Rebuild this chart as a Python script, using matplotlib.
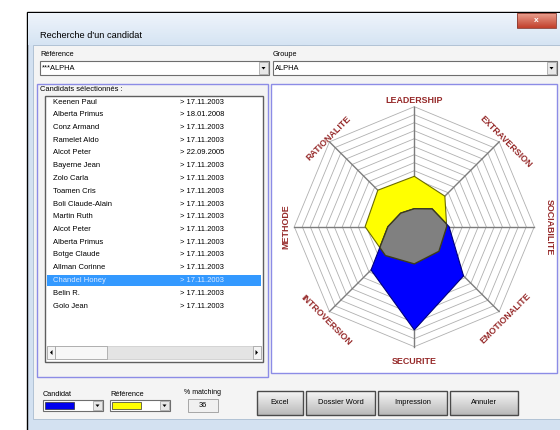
import matplotlib.pyplot as plt
import numpy as np
from matplotlib.colors import LinearSegmentedColormap
from matplotlib.patches import Polygon, Rectangle

plt.rcParams["font.family"] = ["Liberation Sans", "DejaVu Sans"]

# radar data (0-100 scale), axes listed clockwise from the top
AXES = ["LEADERSHIP", "EXTRAVERSION", "SOCIABILITE", "EMOTIONALITE",
        "SECURITE", "INTROVERSION", "METHODE", "RATIONALITE"]
REFERENCE = [42, 36, 27, 29, 31, 34, 41, 43]
CANDIDAT = [15, 21, 29, 58, 86, 51, 22, 16]
N_RINGS = 15
MATCHING = 36

NAMES = ["Keenen Paul", "Alberta Primus", "Conz Armand", "Ramelet Aldo", "Alcot Peter",
         "Bayerne Jean", "Zolo Carla", "Toamen Cris", "Boli Claude-Alain", "Martin Ruth",
         "Alcot Peter", "Alberta Primus", "Botge Claude", "Allman Corinne", "Chandel Honey",
         "Belin R.", "Golo Jean"]
DATES = ["17.11.2003", "18.01.2008", "17.11.2003", "17.11.2003", "22.09.2005",
         "17.11.2003", "17.11.2003", "17.11.2003", "17.11.2003", "17.11.2003",
         "17.11.2003", "17.11.2003", "17.11.2003", "17.11.2003", "17.11.2003",
         "17.11.2003", "17.11.2003"]
SELECTED = 14
BUTTONS = ["Excel", "Dossier Word", "Impression", "Annuler"]

LABEL_RED = "#962a2a"


def box(ax, x0, y0, x1, y1, fc, ec, lw=0.8, z=1):
    ax.add_patch(Rectangle((x0, y0), x1 - x0, y1 - y0, facecolor=fc, edgecolor=ec, lw=lw, zorder=z))


def gradient(ax, x0, y0, x1, y1, c_top, c_bottom, z=1):
    cmap = LinearSegmentedColormap.from_list("g", [c_top, c_bottom])
    ax.imshow(np.linspace(0, 1, 32).reshape(-1, 1), extent=(x0, x1, y1, y0), cmap=cmap,
              aspect="auto", origin="upper", zorder=z, interpolation="bilinear")


def arrow_down(ax, cx, cy, z=5):
    ax.add_patch(Polygon([(cx - 2, cy - 1), (cx + 2, cy - 1), (cx, cy + 1.5)], closed=True,
                         facecolor="black", edgecolor="none", zorder=z))


def combo(ax, x0, y0, x1, y1, text=None, swatch=None):
    box(ax, x0, y0, x1, y1, "white", "#6e6e6e", lw=0.8, z=3)
    box(ax, x1 - 10, y0 + 1, x1 - 1, y1 - 1, "#e8e8e8", "#9a9a9a", lw=0.5, z=4)
    arrow_down(ax, x1 - 5.5, (y0 + y1) / 2)
    if text:
        ax.text(x0 + 2, (y0 + y1) / 2, text, fontsize=5.4, va="center", ha="left", zorder=5)
    if swatch:
        box(ax, x0 + 2, y0 + 2, x0 + 31, y1 - 2, swatch, "#303030", lw=0.5, z=5)


fig = plt.figure(figsize=(5.6, 4.3), dpi=100)
fig.patch.set_facecolor("white")
ui = fig.add_axes([0, 0, 1, 1])

# window frame
box(ui, 27, 12, 570, 440, "#d3e1f1", "black", lw=1.0, z=1)
gradient(ui, 28, 13, 570, 45, "#eef4fb", "#d6e4f3", z=2)
box(ui, 33, 45, 562, 419, "#f4f4f4", "#a9bcd0", lw=0.6, z=2)
ui.text(40, 36, "Recherche d'un candidat", fontsize=6.7, va="center", ha="left", zorder=5)
gradient(ui, 517, 13, 556, 28, "#eaa08f", "#c2402c", z=3)
box(ui, 517, 13, 556, 28, "none", "#8a3a30", lw=0.6, z=4)
ui.text(536.5, 20.5, "x", fontsize=6, fontweight="bold", color="white", va="center", ha="center", zorder=5)

# combos on top
ui.text(40, 55, "Référence", fontsize=5.3, va="center", ha="left", zorder=5)
combo(ui, 40, 61, 269, 75, "***ALPHA")
ui.text(273, 55, "Groupe", fontsize=5.3, va="center", ha="left", zorder=5)
combo(ui, 273, 61, 557, 75, "ALPHA")

# candidate list
box(ui, 37, 84, 268, 377, "none", "#8c8ce6", lw=1.0, z=3)
ui.text(40, 89.5, "Candidats sélectionnés :", fontsize=5.4, va="center", ha="left", zorder=5)
box(ui, 45, 96, 263, 362, "white", "#5e5e5e", lw=1.0, z=3)
for i, (name, date) in enumerate(zip(NAMES, DATES)):
    y = 102 + 12.75 * i
    color = "black"
    if i == SELECTED:
        box(ui, 47, y - 5.5, 261, y + 5.5, "#3399ff", "none", lw=0, z=4)
        color = "#dce9ff"
    ui.text(53, y, name, fontsize=5.5, va="center", ha="left", color=color, zorder=5)
    ui.text(180, y, "> " + date, fontsize=5.5, va="center", ha="left", color=color, zorder=5)

# horizontal scrollbar
box(ui, 47, 346, 261, 359, "#e4e4e4", "#c8c8c8", lw=0.5, z=4)
box(ui, 47, 346, 55, 359, "#f4f4f4", "#9a9a9a", lw=0.5, z=4)
box(ui, 55, 346, 107, 359, "#f7f7f7", "#9a9a9a", lw=0.5, z=4)
box(ui, 253, 346, 261, 359, "#f4f4f4", "#9a9a9a", lw=0.5, z=4)
ui.add_patch(Polygon([(50, 352.5), (52.5, 350), (52.5, 355)], facecolor="black", edgecolor="none", zorder=5))
ui.add_patch(Polygon([(258, 352.5), (255.5, 350), (255.5, 355)], facecolor="black", edgecolor="none", zorder=5))

# radar frame
box(ui, 271, 84, 557, 373, "white", "#8c8ce6", lw=1.0, z=3)

# bottom controls
ui.text(43, 394, "Candidat", fontsize=5.3, va="center", ha="left", zorder=5)
combo(ui, 43, 400, 103, 411, swatch="#0000ee")
ui.text(110, 394, "Référence", fontsize=5.3, va="center", ha="left", zorder=5)
combo(ui, 110, 400, 170, 411, swatch="#ffff00")
ui.text(203, 392, "% matching", fontsize=5.0, va="center", ha="center", zorder=5)
box(ui, 188, 399, 218, 412, "#f0f0f0", "#9a9a9a", lw=0.6, z=3)
ui.text(203, 405.5, str(MATCHING), fontsize=5.3, va="center", ha="center", zorder=5)

button_x = [(257, 303), (306, 375), (378, 447), (450, 518)]
for label, (x0, x1) in zip(BUTTONS, button_x):
    gradient(ui, x0, 391, x1, 415, "#f6f6f6", "#b9b9b9", z=3)
    box(ui, x0, 391, x1, 415, "none", "#4a4a4a", lw=1.0, z=4)
    ui.text((x0 + x1) / 2, 403, label, fontsize=5.4, va="center", ha="center", zorder=5)

ui.set_xlim(0, 560)
ui.set_ylim(430, 0)
ui.axis("off")

# radar chart, one pixel = one data unit, radius 120
cx, cy, half = 414.3, 226.7, 130
radar = fig.add_axes([(cx - half) / 560, (430 - cy - half) / 430, 2 * half / 560, 2 * half / 430])
radar.set_xlim(-half, half)
radar.set_ylim(-half, half)
radar.axis("off")
radar.patch.set_alpha(0)

R = 120
theta = np.radians(90 - 45 * np.arange(len(AXES)))
ring_th = np.append(theta, theta[0])

for k in range(1, N_RINGS + 1):
    r = R * k / N_RINGS
    radar.plot(r * np.cos(ring_th), r * np.sin(ring_th), color="#b0b0b0", lw=0.6, zorder=1)
for t in theta:
    radar.plot([0, R * np.cos(t)], [0, R * np.sin(t)], color="#7d7d7d", lw=1.0, zorder=2)


def vertices(values):
    v = np.asarray(values) / 100 * R
    return np.column_stack([v * np.cos(theta), v * np.sin(theta)])


ref_poly = Polygon(vertices(REFERENCE), closed=True, facecolor="#ffff00", edgecolor="#6b6b00", lw=0.8, zorder=3)
cand_poly = Polygon(vertices(CANDIDAT), closed=True, facecolor="#0000ff", edgecolor="#00007a", lw=0.8, zorder=4)
radar.add_patch(ref_poly)
radar.add_patch(cand_poly)
# overlap drawn in grey
overlap = Polygon(vertices(CANDIDAT), closed=True, facecolor="#808080", edgecolor="#3d3d1a", lw=1.0, zorder=5)
radar.add_patch(overlap)
overlap.set_clip_path(ref_poly)
ref_line = Polygon(vertices(REFERENCE), closed=True, facecolor="none", edgecolor="#3d3d1a", lw=1.0, zorder=6)
radar.add_patch(ref_line)
ref_line.set_clip_path(cand_poly)

label_pos = [(0, 126), (91, 85), (135, 0), (91, -92), (0, -135), (-88, -93), (-128, 0), (-86, 88)]
label_rot = [0, -45, -90, 45, 0, -45, 90, 45]
for name, (lx, ly), rot in zip(AXES, label_pos, label_rot):
    radar.text(lx, ly, name, fontsize=6.4, fontweight="bold", color=LABEL_RED,
               rotation=rot, rotation_mode="anchor", ha="center", va="center", zorder=7)

fig.savefig("out.png", dpi=100)
